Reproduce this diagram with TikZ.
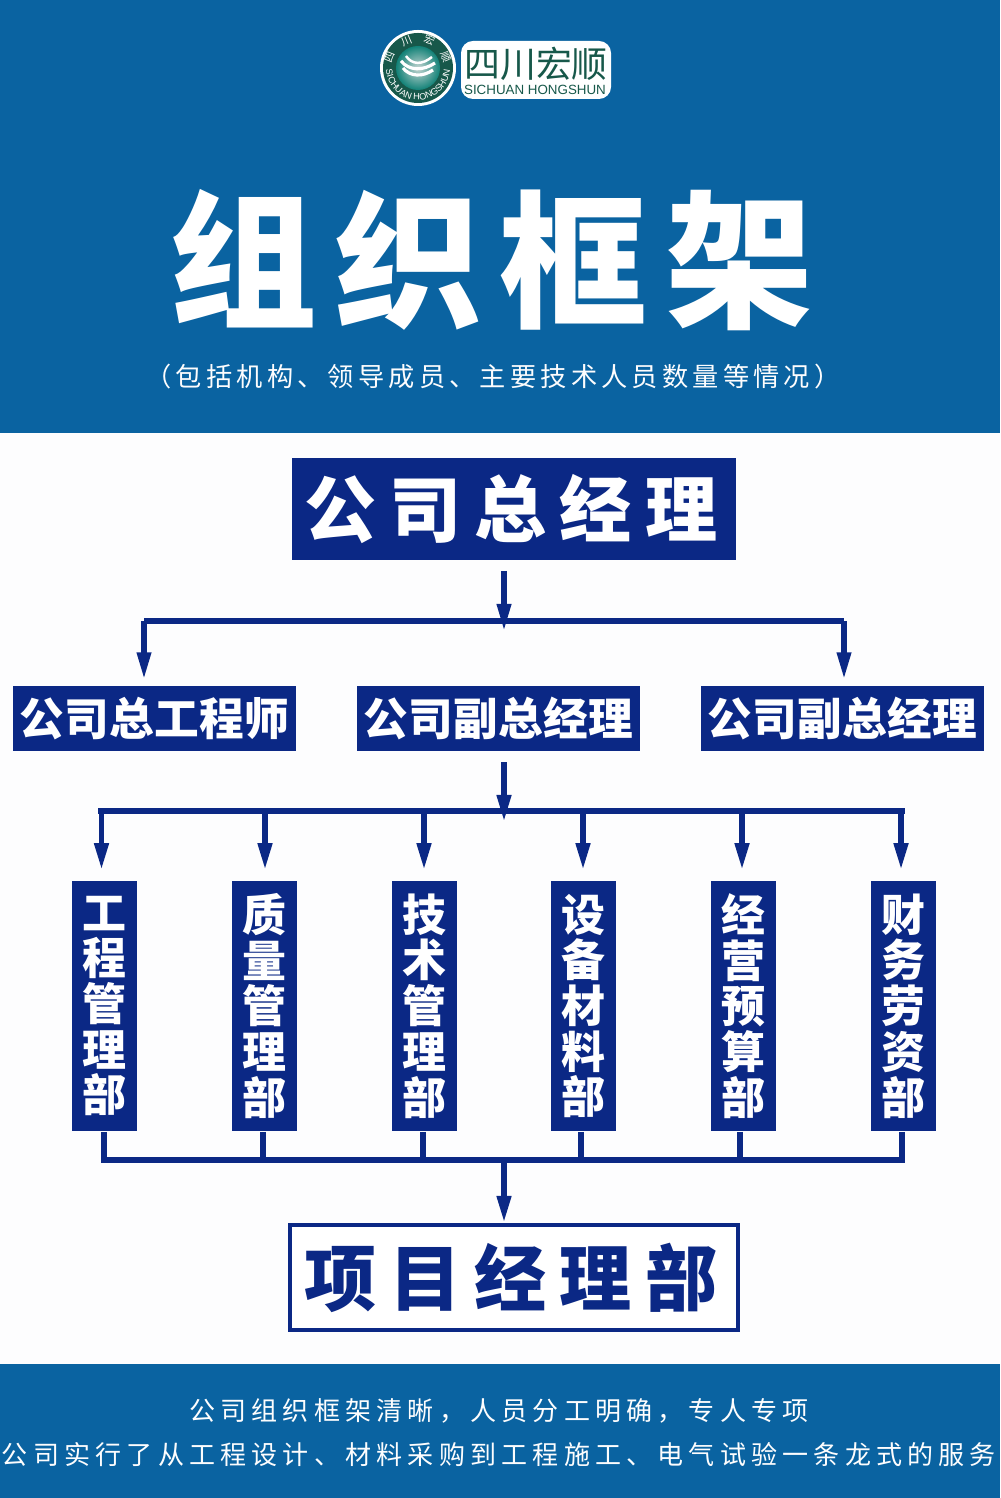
\documentclass[tikz,border=0pt]{standalone}
\usepackage{fontspec}
\usepackage{xcolor}
\usepackage{tikz}
\usetikzlibrary{positioning,arrows.meta,calc,decorations.text}
\newfontfamily\titlefont[LetterSpace=12]{Noto Sans CJK SC Black}
\newfontfamily\headfont[LetterSpace=18]{Noto Sans CJK SC Black}
\newfontfamily\rowfont[LetterSpace=1]{Noto Sans CJK SC Black}
\newfontfamily\deptfont{Noto Sans CJK SC Black}
\newfontfamily\subfont[LetterSpace=16]{Noto Sans CJK SC}
\newfontfamily\footfont[LetterSpace=20]{Noto Sans CJK SC}
\newfontfamily\brandfont{Noto Sans CJK SC}
\newfontfamily\latinfont{Liberation Sans}
\definecolor{bandblue}{HTML}{0A63A1}
\definecolor{navy}{HTML}{0B2885}
\definecolor{paper}{HTML}{FDFDFE}
\definecolor{logogreen}{HTML}{17584A}
\tikzset{
	box/.style={fill=navy, text=white, inner sep=0pt},
	link/.style={draw=navy, line width=1.6pt},
	flow/.style={link, -{Triangle[length=2.7mm,width=1.35mm]}},
}
\begin{document}
\begin{tikzpicture}[x=0.01cm,y=-0.01cm]
	\useasboundingbox (0,0) rectangle (1000,1498);
	% bands
	\fill[paper] (0,0) rectangle (1000,1498);
	\fill[bandblue] (0,0) rectangle (1000,433);
	\fill[bandblue] (0,1364) rectangle (1000,1498);
	% logo
	\fill[white, rounded corners=1.2mm] (461,41) rectangle (611,99);
	\begin{scope}[shift={(418,68)},x=0.01cm,y=0.01cm]
		\fill[white] (0,0) circle (38);
		\fill[logogreen] (0,0) circle (35);
		\shade[inner color=logogreen!25!white, outer color=logogreen!75!cyan] (0,0) circle (22);
		\draw[white, line width=0.9pt] (-17,7) .. controls (-9,-3) and (5,-3) .. (17,5);
		\draw[white, line width=0.9pt] (-15,0) .. controls (-8,-9) and (5,-9) .. (15,-2);
		\draw[white, line width=0.7pt] (-12,12) .. controls (-6,3) and (4,3) .. (14,11);
		\path[decorate, decoration={text along path, text align=center,
			text={|\fontsize{2.6}{2.6}\latinfont\color{white}|SICHUAN HONGSHUN}}]
			(-32,0) arc (180:360:32);
		\path[decorate, decoration={text along path, text align={fit to path},
			text={|\fontsize{3}{3}\brandfont\color{white}|四川宏顺}}]
			(-25.6,4.5) arc (170:10:26);
	\end{scope}
	\node[text=logogreen, font={\brandfont\fontsize{10.2}{10.2}\selectfont}] (brand) at (536,64) {四川宏顺};
	\node[text=logogreen, font={\latinfont\fontsize{3.8}{3.8}\selectfont}] (brandlatin) at (535,90) {SICHUAN HONGSHUN};
	% header texts
	\node[text=white, font={\titlefont\fontsize{42}{42}\selectfont}] (title) at (491,260) {组织框架};
	\node[text=paper, font={\subfont\fontsize{7.45}{7.45}\selectfont}] (subtitle) at (493,377) {（包括机构、领导成员、主要技术人员数量等情况）};
	% top rows
	\node[box, minimum width=4.44cm, minimum height=1.02cm, font={\headfont\fontsize{20.5}{20.5}\selectfont}] (gm) at (514,509) {};
	\node[text=white, font={\headfont\fontsize{20.5}{20.5}\selectfont}] (gmtext) at (gm) [xshift=-0.03cm] {公司总经理};
	\node[box, minimum width=2.83cm, minimum height=0.65cm, font={\rowfont\fontsize{12.7}{12.7}\selectfont}] (chief) at (154.5,718.5) {公司总工程师};
	\node[box, minimum width=2.83cm, minimum height=0.65cm, font={\rowfont\fontsize{12.7}{12.7}\selectfont}] (vicea) at (498.5,718.5) {公司副总经理};
	\node[box, minimum width=2.83cm, minimum height=0.65cm, font={\rowfont\fontsize{12.7}{12.7}\selectfont}] (viceb) at (842.5,718.5) {公司副总经理};
	% departments
	\foreach \i/\x/\l in {1/104.5/工\\程\\管\\理\\部, 2/264.5/质\\量\\管\\理\\部, 3/424.5/技\\术\\管\\理\\部,
		4/583.5/设\\备\\材\\料\\部, 5/743.5/经\\营\\预\\算\\部, 6/903.5/财\\务\\劳\\资\\部}
		{\node[box, align=center, minimum width=0.65cm, minimum height=2.5cm,
			font={\deptfont\fontsize{12.5}{13}\selectfont}] (dept\i) at (\x,1006) {\l};}
	% project office
	\node[draw=navy, line width=1.15pt, fill=white, inner sep=0pt, minimum width=4.48cm, minimum height=1.05cm] (project) at (514,1277.5) {};
	\node[text=navy, font={\headfont\fontsize{20.5}{20.5}\selectfont}] (projecttext) at (project) [xshift=-0.03cm] {项目经理部};
	% upper links
	\coordinate (gmout) at (504,571);
	\coordinate (gmleft) at (144,621);
	\coordinate (gmright) at (844,621);
	\coordinate (gmtip) at (504,631);
	\draw[link, line width=1.5pt] (gmleft) -- (gmright);
	\draw[flow, line width=1.5pt] (gmout) -- (gmtip);
	\draw[flow, line width=1.5pt, shorten >=0.6mm] (gmleft) -- (gmleft |- chief.north) ;
	\draw[flow, line width=1.5pt, shorten >=0.6mm] (gmright) -- (gmright |- viceb.north);
	% middle links
	\coordinate (viceout) at (504,762);
	\coordinate (vicetip) at (504,822);
	\draw[link] (98,811) -- (905,811);
	\draw[flow] (viceout) -- (vicetip);
	\foreach \i/\x in {1/101.5, 2/265, 3/424, 4/583, 5/742, 6/901}
		{\coordinate (top\i) at (\x,811);
		\draw[flow, shorten >=1mm] (top\i) -- (top\i |- dept\i.north);}
	% lower links
	\foreach \i/\x in {1/104, 2/263, 3/423, 4/581, 5/740, 6/902}
		{\coordinate (low\i) at (\x,1160);
		\draw[link] (low\i |- dept\i.south) -- (low\i);}
	\draw[link] (101,1160) -- (905,1160);
	\coordinate (lowout) at (504,1160);
	\draw[flow] (lowout) -- (lowout |- project.north);
	% footer texts
	\node[text=paper, font={\footfont\fontsize{7.4}{7.4}\selectfont}] (footera) at (499,1411) {公司组织框架清晰，人员分工明确，专人专项};
	\node[text=paper, font={\footfont\fontsize{7.4}{7.4}\selectfont}] (footerb) at (499,1455) {公司实行了从工程设计、材料采购到工程施工、电气试验一条龙式的服务};
\end{tikzpicture}
\end{document}
